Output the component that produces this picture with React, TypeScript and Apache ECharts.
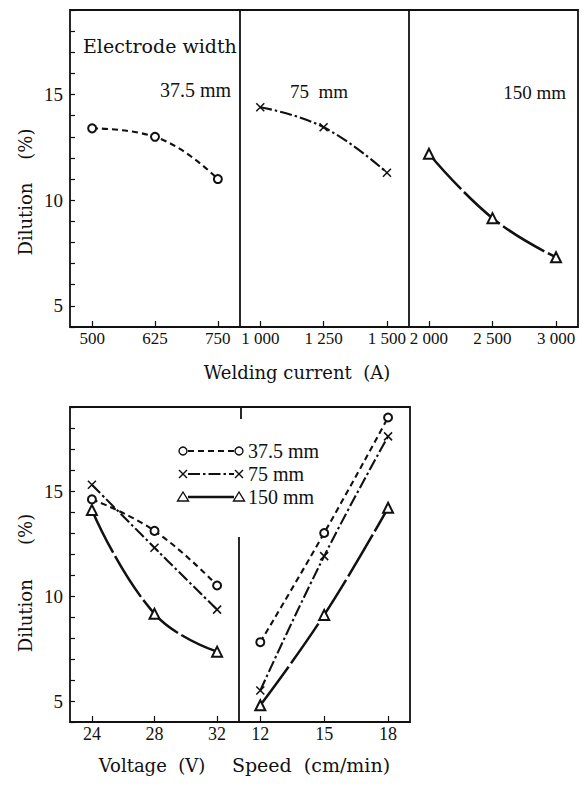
import React, { useEffect, useRef } from "react";
import * as echarts from "echarts";

// ---------- data ----------
const WIDTH_NAMES = ["37.5 mm", "75 mm", "150 mm"];

// Top chart: dilution (%) vs welding current (A), one panel per electrode width
const CURRENT_37 = [500, 625, 750];
const DILUTION_CURRENT_37 = [13.4, 13.0, 11.0];
const CURRENT_75 = [1000, 1250, 1500];
const DILUTION_CURRENT_75 = [14.4, 13.45, 11.3];
const CURRENT_150 = [2000, 2500, 3000];
const DILUTION_CURRENT_150 = [12.2, 9.15, 7.3];

// Bottom chart: dilution (%) vs voltage (V) and vs speed (cm/min)
const VOLTAGE = [24, 28, 32];
const DILUTION_VOLTAGE_37 = [14.6, 13.1, 10.5];
const DILUTION_VOLTAGE_75 = [15.3, 12.3, 9.35];
const DILUTION_VOLTAGE_150 = [14.1, 9.15, 7.35];
const SPEED = [12, 15, 18];
const DILUTION_SPEED_37 = [7.8, 13.0, 18.5];
const DILUTION_SPEED_75 = [5.5, 11.9, 17.6];
const DILUTION_SPEED_150 = [4.8, 9.1, 14.2];

const Y_TICK_LABELS = [5, 10, 15];
const Y_MIN = 4;
const Y_MAX = 19;

// ---------- layout ----------
const TOP_Y0 = 10;
const TOP_Y1 = 327;
const TOP_EDGES = [70, 240, 409, 578];
const BOT_Y0 = 407;
const BOT_Y1 = 722;
const BOT_EDGES = [70, 239, 410];

const NUM_FONT = "'Liberation Serif', 'Times New Roman', serif";
const WORD_FONT = "'DejaVu Serif', serif";
const INK = "#111";

const CROSS = "path://M0,0L10,10M10,0L0,10";
const STYLES = [
  { symbol: "emptyCircle", size: 8, dash: [6, 4] as number[], width: 2.1 },
  { symbol: CROSS, size: 8, dash: [12, 3, 2.5, 3] as number[], width: 2.1 },
  { symbol: "emptyTriangle", size: 10, dash: [48, 4] as number[], width: 2.5 },
];

function fmtThousands(v: number): string {
  if (v >= 1000) {
    const s = String(v);
    return s.slice(0, s.length - 3) + " " + s.slice(s.length - 3);
  }
  return String(v);
}

function makeSeries(axisIdx: number, xs: number[], ys: number[], styleIdx: number) {
  const st = STYLES[styleIdx];
  return {
    type: "line",
    name: WIDTH_NAMES[styleIdx],
    xAxisIndex: axisIdx,
    yAxisIndex: axisIdx,
    data: xs.map((x, i) => [x, ys[i]]),
    smooth: 0.45,
    symbol: st.symbol,
    symbolSize: st.size,
    showAllSymbol: true,
    itemStyle: { color: INK, borderColor: INK, borderWidth: 1.5 },
    lineStyle: { color: INK, width: st.width, type: st.dash },
    emphasis: { disabled: true },
    silent: true,
  };
}

function App() {
  const ref = useRef<HTMLDivElement>(null);

  useEffect(() => {
    if (!ref.current) return;
    const chart = echarts.init(ref.current, undefined, { renderer: "svg" });

    const grids = [
      { left: TOP_EDGES[0], width: TOP_EDGES[1] - TOP_EDGES[0], top: TOP_Y0, height: TOP_Y1 - TOP_Y0 },
      { left: TOP_EDGES[1], width: TOP_EDGES[2] - TOP_EDGES[1], top: TOP_Y0, height: TOP_Y1 - TOP_Y0 },
      { left: TOP_EDGES[2], width: TOP_EDGES[3] - TOP_EDGES[2], top: TOP_Y0, height: TOP_Y1 - TOP_Y0 },
      { left: BOT_EDGES[0], width: BOT_EDGES[1] - BOT_EDGES[0], top: BOT_Y0, height: BOT_Y1 - BOT_Y0 },
      { left: BOT_EDGES[1], width: BOT_EDGES[2] - BOT_EDGES[1], top: BOT_Y0, height: BOT_Y1 - BOT_Y0 },
    ];

    const xDefs = [
      { ticks: CURRENT_37, min: 456, max: 794 },
      { ticks: CURRENT_75, min: 920, max: 1587 },
      { ticks: CURRENT_150, min: 1843, max: 3173 },
      { ticks: VOLTAGE, min: 22.6, max: 33.4 },
      { ticks: SPEED, min: 11, max: 19.03 },
    ];

    const xAxis = xDefs.map((d, i) => ({
      type: "value",
      gridIndex: i,
      min: d.min,
      max: d.max,
      axisLine: { show: false },
      splitLine: { show: false },
      axisTick: {
        show: true,
        inside: true,
        length: 6,
        customValues: d.ticks,
        lineStyle: { color: INK, width: 1.2 },
      },
      axisLabel: {
        customValues: d.ticks,
        formatter: (v: number) => fmtThousands(v),
        margin: 3,
        color: INK,
        fontFamily: NUM_FONT,
        fontSize: i < 3 ? 17 : 18,
      },
    }));

    const yAxis = grids.map((_, i) => ({
      type: "value",
      gridIndex: i,
      min: Y_MIN,
      max: Y_MAX,
      interval: 1,
      show: i === 0 || i === 3,
      axisLine: { show: false },
      splitLine: { show: false },
      axisTick: { show: true, inside: true, length: 5, lineStyle: { color: INK, width: 1.2 } },
      axisLabel: {
        formatter: (v: number) => (Y_TICK_LABELS.includes(v) ? String(v) : ""),
        margin: 7,
        color: INK,
        fontFamily: NUM_FONT,
        fontSize: 19,
      },
    }));

    const series = [
      makeSeries(0, CURRENT_37, DILUTION_CURRENT_37, 0),
      makeSeries(1, CURRENT_75, DILUTION_CURRENT_75, 1),
      makeSeries(2, CURRENT_150, DILUTION_CURRENT_150, 2),
      makeSeries(3, VOLTAGE, DILUTION_VOLTAGE_37, 0),
      makeSeries(3, VOLTAGE, DILUTION_VOLTAGE_75, 1),
      makeSeries(3, VOLTAGE, DILUTION_VOLTAGE_150, 2),
      makeSeries(4, SPEED, DILUTION_SPEED_37, 0),
      makeSeries(4, SPEED, DILUTION_SPEED_75, 1),
      makeSeries(4, SPEED, DILUTION_SPEED_150, 2),
    ];

    const frame = { stroke: INK, lineWidth: 1.8, fill: "none" };
    const graphic: any[] = [
      // top frame and dividers
      { type: "rect", shape: { x: TOP_EDGES[0], y: TOP_Y0, width: TOP_EDGES[3] - TOP_EDGES[0], height: TOP_Y1 - TOP_Y0 }, style: frame, silent: true },
      { type: "line", shape: { x1: TOP_EDGES[1], y1: TOP_Y0, x2: TOP_EDGES[1], y2: TOP_Y1 }, style: frame, silent: true },
      { type: "line", shape: { x1: TOP_EDGES[2], y1: TOP_Y0, x2: TOP_EDGES[2], y2: TOP_Y1 }, style: frame, silent: true },
      // bottom frame and partial divider
      { type: "rect", shape: { x: BOT_EDGES[0], y: BOT_Y0, width: BOT_EDGES[2] - BOT_EDGES[0], height: BOT_Y1 - BOT_Y0 }, style: frame, silent: true },
      { type: "line", shape: { x1: BOT_EDGES[1], y1: 537, x2: BOT_EDGES[1], y2: BOT_Y1 }, style: frame, silent: true },
      { type: "line", shape: { x1: BOT_EDGES[1] + 2, y1: BOT_Y0, x2: BOT_EDGES[1] + 2, y2: BOT_Y0 + 12 }, style: frame, silent: true },
      // annotations
      { type: "text", x: 83, y: 46, style: { text: "Electrode width", fontFamily: WORD_FONT, fontSize: 19, fill: INK, verticalAlign: "middle" }, silent: true },
      { type: "text", x: 231, y: 90, style: { text: "37.5 mm", fontFamily: NUM_FONT, fontSize: 20, fill: INK, align: "right", verticalAlign: "middle" }, silent: true },
      { type: "text", x: 290, y: 91, style: { text: "75  mm", fontFamily: NUM_FONT, fontSize: 19, fill: INK, verticalAlign: "middle" }, silent: true },
      { type: "text", x: 566, y: 92, style: { text: "150 mm", fontFamily: NUM_FONT, fontSize: 19, fill: INK, align: "right", verticalAlign: "middle" }, silent: true },
      // axis titles
      { type: "text", x: 25, y: 192, rotation: Math.PI / 2, style: { text: "Dilution    (%)", fontFamily: WORD_FONT, fontSize: 18, fill: INK, align: "center", verticalAlign: "middle" }, silent: true },
      { type: "text", x: 25, y: 583, rotation: Math.PI / 2, style: { text: "Dilution      (%)", fontFamily: WORD_FONT, fontSize: 18, fill: INK, align: "center", verticalAlign: "middle" }, silent: true },
      { type: "text", x: 297, y: 372, style: { text: "Welding current  (A)", fontFamily: WORD_FONT, fontSize: 18, fill: INK, align: "center", verticalAlign: "middle" }, silent: true },
      { type: "text", x: 152, y: 765, style: { text: "Voltage  (V)", fontFamily: WORD_FONT, fontSize: 18, fill: INK, align: "center", verticalAlign: "middle" }, silent: true },
      { type: "text", x: 311, y: 765, style: { text: "Speed  (cm/min)", fontFamily: WORD_FONT, fontSize: 19, fill: INK, align: "center", verticalAlign: "middle" }, silent: true },
    ];

    // legend (marker - line - marker, label)
    const LEG_X1 = 183;
    const LEG_X2 = 239;
    const LEG_Y = [451, 474, 497];
    const marker = (kind: number, cx: number, cy: number) => {
      if (kind === 0) {
        return [{ type: "circle", shape: { cx, cy, r: 4 }, style: { fill: "#fff", stroke: INK, lineWidth: 1.4 }, silent: true, z: 10 }];
      }
      if (kind === 1) {
        return [
          { type: "line", shape: { x1: cx - 4, y1: cy - 4, x2: cx + 4, y2: cy + 4 }, style: { stroke: INK, lineWidth: 1.5 }, silent: true, z: 10 },
          { type: "line", shape: { x1: cx + 4, y1: cy - 4, x2: cx - 4, y2: cy + 4 }, style: { stroke: INK, lineWidth: 1.5 }, silent: true, z: 10 },
        ];
      }
      return [{ type: "polygon", shape: { points: [[cx, cy - 5], [cx - 5.5, cy + 4], [cx + 5.5, cy + 4]] }, style: { fill: "#fff", stroke: INK, lineWidth: 1.4 }, silent: true, z: 10 }];
    };
    WIDTH_NAMES.forEach((name, k) => {
      const y = LEG_Y[k];
      const st = STYLES[k];
      graphic.push({ type: "line", shape: { x1: LEG_X1 + 5, y1: y, x2: LEG_X2 - 5, y2: y }, style: { stroke: INK, lineWidth: st.width, lineDash: k === 2 ? [] : st.dash }, silent: true });
      graphic.push(...marker(k, LEG_X1, y));
      graphic.push(...marker(k, LEG_X2, y));
      graphic.push({ type: "text", x: 248, y, style: { text: name, fontFamily: NUM_FONT, fontSize: 20, fill: INK, verticalAlign: "middle" }, silent: true });
    });

    chart.setOption({
      animation: false,
      backgroundColor: "#fff",
      grid: grids.map((g) => ({ ...g, containLabel: false, show: false })),
      xAxis,
      yAxis,
      series,
      graphic,
    });

    return () => chart.dispose();
  }, []);

  return (
    <div
      ref={ref}
      style={{ position: "fixed", left: 0, top: 0, width: 587, height: 788, background: "#fff" }}
    />
  );
}

export default App;
